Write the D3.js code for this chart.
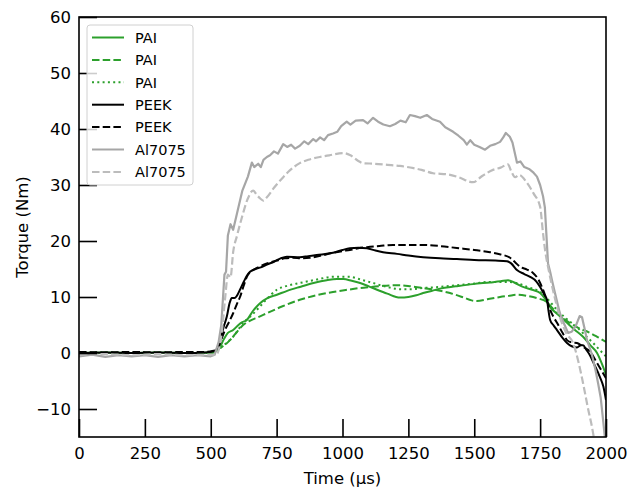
<!DOCTYPE html>
<html>
<head>
<meta charset="utf-8">
<script src="https://cdn.jsdelivr.net/npm/d3@7"></script>
<style>
  body { margin: 0; background: #fff; }
  svg { display: block; font-family: "DejaVu Sans", sans-serif; }
  .line { fill: none; stroke-linejoin: round; }
</style>
</head>
<body>
<div id="chart"></div>
<script>
// ---- data (time in µs, torque in Nm) ----
var xTicks = [0, 250, 500, 750, 1000, 1250, 1500, 1750, 2000];
var yTicks = [-10, 0, 10, 20, 30, 40, 50, 60];

var paiSolid = [[0,0],[100,0.1],[200,0],[300,0.1],[400,0],[500,0.1],[520,0.4],[535,1.1],[550,2.5],[565,3.6],[585,4.1],[605,5],[620,5.5],[637,5.9],[660,7.5],[687,8.9],[715,9.8],[751,10.4],[790,11.1],[838,11.8],[890,12.5],[940,13],[979,13.2],[1003,13.2],[1035,12.9],[1067,12.5],[1100,11.9],[1131,11.3],[1170,10.6],[1218,9.9],[1250,10],[1280,10.3],[1306,10.7],[1340,11.1],[1370,11.5],[1430,11.9],[1495,12.3],[1560,12.6],[1600,12.8],[1628,13],[1655,12.5],[1685,11.8],[1720,11.3],[1750,10.7],[1770,9.6],[1788,8.2],[1820,6.8],[1852,5.4],[1880,4.2],[1913,2.9],[1940,1.4],[1966,0],[1985,-2],[2000,-3.9]];

var paiDashed = [[0,0.1],[100,0],[200,0.1],[300,0],[400,0.1],[500,0],[520,0.3],[535,0.9],[555,1.5],[573,2.3],[600,3.8],[623,5],[650,5.8],[680,6.4],[713,7.1],[770,8.3],[838,9.5],[900,10.3],[964,10.9],[1020,11.3],[1067,11.6],[1110,11.8],[1154,12],[1218,12.1],[1260,11.9],[1306,11.6],[1360,11.2],[1408,10.7],[1460,9.9],[1490,9.4],[1510,9.3],[1550,9.6],[1598,10],[1630,10.2],[1662,10.4],[1700,10.2],[1738,9.8],[1776,9.1],[1795,8.1],[1814,7.1],[1850,5.8],[1890,4.6],[1939,3.6],[1970,2.8],[2000,2]];

var paiDotted = [[0,0],[100,0.1],[200,0],[300,0.1],[400,0],[500,0],[520,0.3],[540,1],[560,1.8],[585,2.9],[605,4.2],[623,5.4],[650,6.5],[675,7.7],[710,9.5],[751,11.3],[790,12],[838,12.5],[900,13.1],[964,13.6],[1028,13.6],[1070,13.1],[1116,12.5],[1160,11.9],[1218,11.4],[1260,11.4],[1306,11.6],[1370,11.8],[1434,12.1],[1500,12.4],[1560,12.7],[1620,12.7],[1662,12.5],[1700,11.8],[1750,10.9],[1785,9.3],[1814,7.7],[1850,6.1],[1890,4.6],[1920,3.2],[1951,1.8],[1975,0.6],[2000,-0.6]];

var peekSolid = [[0,0],[100,0.1],[200,0],[300,0.1],[400,0],[480,0.1],[510,0.3],[525,0.8],[535,2],[548,4.5],[561,6.5],[572,9],[580,9.8],[590,9.8],[599,10.2],[610,11.2],[623,12.5],[637,13.8],[649,14.5],[670,15],[690,15.3],[713,15.8],[740,16.3],[765,16.9],[789,17.2],[838,17.1],[870,17.3],[902,17.5],[964,17.9],[1000,18.4],[1028,18.7],[1060,18.8],[1093,18.7],[1125,18.3],[1154,18],[1207,17.7],[1250,17.4],[1306,17.1],[1370,16.9],[1434,16.8],[1500,16.6],[1580,16.5],[1624,16.4],[1640,16],[1662,14.8],[1690,14.1],[1712,13.6],[1735,12.8],[1750,11.8],[1765,10.5],[1776,9.5],[1782,7.5],[1788,5.9],[1800,5],[1814,4.1],[1835,2.7],[1852,1.8],[1870,1.2],[1890,1],[1905,1.4],[1913,1.4],[1925,0.6],[1939,-0.4],[1955,-2],[1977,-4.3],[1990,-6],[2000,-8.4]];

var peekDashed = [[0,0.2],[100,0.1],[200,0.2],[300,0.1],[400,0.2],[480,0.2],[510,0.4],[530,1.2],[545,3],[554,4.1],[570,5.6],[585,7.1],[598,8.6],[611,10],[625,12],[637,13.6],[655,14.6],[680,15.3],[713,16],[750,16.5],[780,16.9],[812,17],[845,16.9],[877,17],[920,17.4],[964,17.9],[1000,18.2],[1028,18.4],[1060,18.7],[1093,18.9],[1140,19.1],[1192,19.3],[1250,19.3],[1306,19.3],[1370,19.1],[1434,18.75],[1500,18.4],[1560,18],[1600,17.6],[1636,17],[1655,16.2],[1674,15.4],[1700,14.9],[1723,14.3],[1745,13],[1761,11.3],[1775,9.5],[1788,7.7],[1800,6.5],[1814,5.4],[1835,3.6],[1852,2.3],[1870,1.9],[1890,1.8],[1913,1.1],[1939,0.3],[1966,-1.8],[1985,-3.3],[2000,-4.5]];

var alSolid = [[0,-0.6],[50,-0.3],[100,-0.7],[150,-0.4],[200,-0.6],[250,-0.4],[300,-0.7],[350,-0.4],[400,-0.6],[450,-0.4],[500,-0.6],[515,-0.3],[530,2],[540,5],[552,14],[558,14.5],[565,21],[575,23],[585,22],[600,25],[620,29],[641,31.5],[656,34],[665,33.2],[680,33.8],[690,33.2],[700,34.5],[713,35],[725,35.3],[740,36],[755,35.6],[775,37.3],[790,36.8],[805,37.2],[820,36.5],[838,37],[855,37.8],[870,37.3],[889,38.2],[900,37.8],[915,38.5],[930,38],[945,38.9],[964,39.2],[980,39.5],[995,40.5],[1016,41.3],[1030,40.8],[1050,41.5],[1078,41.6],[1095,41],[1116,42],[1135,41.3],[1155,40.8],[1180,40.5],[1200,40.9],[1220,41.5],[1240,41.2],[1256,42.5],[1275,42.3],[1295,42],[1320,42.5],[1340,41.8],[1370,41.3],[1390,40.3],[1420,39.5],[1440,38.8],[1460,38],[1472,37.2],[1485,38],[1500,37.2],[1520,36.8],[1541,36.3],[1560,37],[1580,37.3],[1598,37.7],[1610,38.5],[1620,39.3],[1635,38.6],[1645,37.6],[1655,35.5],[1662,34],[1675,34.2],[1690,33.2],[1710,32.8],[1725,32.2],[1738,31.5],[1750,30],[1761,28],[1768,26],[1774,21],[1780,16],[1788,14.5],[1795,13],[1805,11],[1815,9],[1825,7.1],[1840,5.3],[1856,3.6],[1870,3.8],[1885,4.8],[1900,6.6],[1909,6.4],[1918,4.5],[1928,2.3],[1945,0],[1960,-3],[1970,-5.4],[1980,-8],[1989,-12],[2000,-17]];

var alDashed = [[0,-0.3],[100,-0.2],[200,-0.4],[300,-0.2],[400,-0.4],[500,-0.3],[520,-0.3],[540,3],[555,10],[565,14],[575,13.5],[585,18],[600,21],[620,24.5],[640,27.5],[661,29],[675,28.2],[690,27.5],[700,27.2],[713,27.8],[740,29.5],[775,31.4],[800,32.6],[838,33.9],[870,34.5],[914,35],[950,35.3],[1003,35.7],[1030,35.3],[1060,34.3],[1078,33.9],[1120,33.8],[1170,33.6],[1218,33.4],[1270,33],[1300,32.7],[1344,32.1],[1400,31.9],[1440,31.4],[1495,30.5],[1530,31.6],[1571,32.7],[1600,33.1],[1628,33.7],[1640,32.5],[1655,31.4],[1670,31.8],[1700,30.4],[1725,28.5],[1750,26.1],[1761,21.4],[1770,18],[1780,15.4],[1800,11],[1825,6.4],[1850,3.5],[1875,1.8],[1895,-1.5],[1913,-5.4],[1930,-9.5],[1951,-14.3],[1960,-17]];

var seriesNames = ["PAI", "PAI", "PAI", "PEEK", "PEEK", "Al7075", "Al7075"];
var seriesData = [paiSolid, paiDashed, paiDotted, peekSolid, peekDashed, alSolid, alDashed];
var seriesColors = ["#2ca02c", "#2ca02c", "#2ca02c", "#000000", "#000000", "#a6a6a6", "#bcbcbc"];
var seriesDash = [null, "7.5,3.2", "2,3.3", null, "7.5,3.2", null, "7.5,3.2"];
var seriesSmooth = [true, true, true, true, true, false, true];

// ---- layout ----
var W = 641, H = 490;
var margin = {top: 17, right: 35, bottom: 53, left: 79};
var width = W - margin.left - margin.right,
    height = H - margin.top - margin.bottom;

var svg = d3.select("#chart").append("svg")
    .attr("width", W)
    .attr("height", H);

var g = svg.append("g")
    .attr("transform", `translate(${margin.left},${margin.top})`);

var x = d3.scaleLinear().domain([0, 2000]).range([0, width]),
    y = d3.scaleLinear().domain([-15, 60]).range([height, 0]);

g.append("clipPath").attr("id", "clip")
  .append("rect").attr("width", width).attr("height", height);

// lines
var plot = g.append("g").attr("clip-path", "url(#clip)");
seriesData.forEach(function(d, i) {
  var line = d3.line()
    .x(p => x(p[0]))
    .y(p => y(p[1]))
    .curve(seriesSmooth[i] ? d3.curveMonotoneX : d3.curveLinear);
  plot.append("path")
    .datum(d)
    .attr("class", "line")
    .attr("d", line)
    .attr("stroke", seriesColors[i])
    .attr("stroke-width", i >= 5 ? 2.2 : 2)
    .attr("stroke-dasharray", seriesDash[i]);
});

// axes (ticks point inward)
var tickLen = 18;
var xAxis = g.append("g")
    .attr("transform", `translate(0,${height})`)
    .call(d3.axisBottom(x).tickValues(xTicks).tickSizeInner(-tickLen).tickSizeOuter(0).tickPadding(6)
      .tickFormat(d3.format("d")));
var yAxis = g.append("g")
    .call(d3.axisLeft(y).tickValues(yTicks).tickSizeInner(-tickLen).tickSizeOuter(0).tickPadding(8)
      .tickFormat(d => d < 0 ? "\u2212" + Math.abs(d) : d));

[xAxis, yAxis].forEach(function(a) {
  a.select(".domain").remove();
  a.selectAll(".tick line").attr("stroke", "#000").attr("stroke-width", 1.6);
  a.selectAll(".tick text")
    .attr("fill", "#000")
    .style("font-family", "DejaVu Sans, sans-serif")
    .style("font-size", "16.5px");
});
xAxis.selectAll(".tick text").attr("dy", "0.95em");

// frame
g.append("rect")
  .attr("width", width).attr("height", height)
  .attr("fill", "none").attr("stroke", "#000").attr("stroke-width", 1.6);

// axis labels
g.append("text")
  .attr("x", width / 2).attr("y", height + 47)
  .attr("text-anchor", "middle")
  .style("font-size", "16.5px")
  .text("Time (\u03bcs)");

g.append("text")
  .attr("transform", `translate(${-51},${height / 2}) rotate(-90)`)
  .attr("text-anchor", "middle")
  .style("font-size", "16.5px")
  .text("Torque (Nm)");

// legend
var lg = g.append("g").attr("transform", "translate(8,8)");
lg.append("rect")
  .attr("width", 106).attr("height", 160)
  .attr("rx", 3)
  .attr("fill", "#fff").attr("fill-opacity", 0.8)
  .attr("stroke", "#d0d0d0").attr("stroke-width", 1);

seriesNames.forEach(function(name, i) {
  var yy = 12.5 + i * 22.4;
  lg.append("line")
    .attr("x1", 5).attr("x2", 37).attr("y1", yy).attr("y2", yy)
    .attr("stroke", seriesColors[i])
    .attr("stroke-width", 2)
    .attr("stroke-dasharray", seriesDash[i]);
  lg.append("text")
    .attr("x", 48).attr("y", yy)
    .attr("dy", "0.36em")
    .style("font-size", "14.5px")
    .text(name);
});
</script>
</body>
</html>
